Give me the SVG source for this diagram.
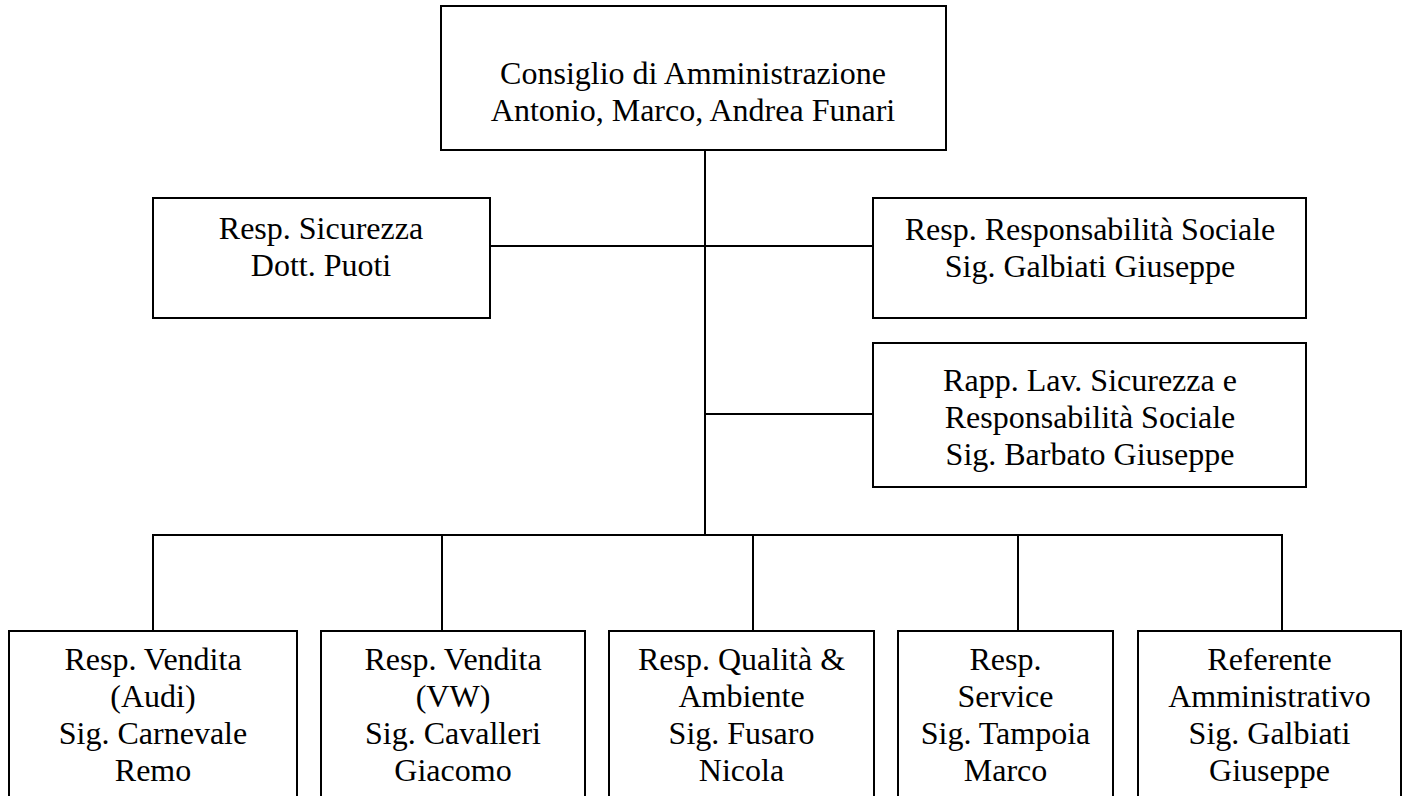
<svg xmlns="http://www.w3.org/2000/svg" width="1407" height="796" viewBox="0 0 1407 796">
<style>
.box{fill:#ffffff;stroke:#000000;stroke-width:2}
.ln{fill:none;stroke:#000000;stroke-width:2}
text{font-family:"Liberation Serif","Times New Roman",serif;font-size:32px;fill:#000000;text-anchor:middle}
</style>
<rect x="0" y="0" width="1407" height="796" fill="#ffffff"/>
<g id="connectors">
<line class="ln" x1="705" y1="150" x2="705" y2="535"/>
<line class="ln" x1="490" y1="246" x2="873" y2="246"/>
<line class="ln" x1="705" y1="414" x2="873" y2="414"/>
<line class="ln" x1="152" y1="535" x2="1283" y2="535"/>
<line class="ln" x1="153" y1="535" x2="153" y2="631"/>
<line class="ln" x1="442" y1="535" x2="442" y2="631"/>
<line class="ln" x1="753" y1="535" x2="753" y2="631"/>
<line class="ln" x1="1018" y1="535" x2="1018" y2="631"/>
<line class="ln" x1="1282" y1="535" x2="1282" y2="631"/>
</g>
<g id="n_cda">
<rect class="box" x="441" y="6" width="505" height="144"/>
<text x="693" y="84">Consiglio di Amministrazione</text>
<text x="693" y="121">Antonio, Marco, Andrea Funari</text>
</g>
<g id="n_sicurezza">
<rect class="box" x="153" y="198" width="337" height="120"/>
<text x="321" y="239">Resp. Sicurezza</text>
<text x="321" y="276">Dott. Puoti</text>
</g>
<g id="n_respsociale">
<rect class="box" x="873" y="198" width="433" height="120"/>
<text x="1090" y="240">Resp. Responsabilità Sociale</text>
<text x="1090" y="277">Sig. Galbiati Giuseppe</text>
</g>
<g id="n_rapp">
<rect class="box" x="873" y="343" width="433" height="144"/>
<text x="1090" y="391">Rapp. Lav. Sicurezza e</text>
<text x="1090" y="428">Responsabilità Sociale</text>
<text x="1090" y="465">Sig. Barbato Giuseppe</text>
</g>
<g id="n_audi">
<rect class="box" x="9" y="631" width="288" height="180"/>
<text x="153" y="670">Resp. Vendita</text>
<text x="153" y="707">(Audi)</text>
<text x="153" y="744">Sig. Carnevale</text>
<text x="153" y="781">Remo</text>
</g>
<g id="n_vw">
<rect class="box" x="321" y="631" width="264" height="180"/>
<text x="453" y="670">Resp. Vendita</text>
<text x="453" y="707">(VW)</text>
<text x="453" y="744">Sig. Cavalleri</text>
<text x="453" y="781">Giacomo</text>
</g>
<g id="n_qualita">
<rect class="box" x="609" y="631" width="265" height="180"/>
<text x="741.5" y="670">Resp. Qualità &amp;</text>
<text x="741.5" y="707">Ambiente</text>
<text x="741.5" y="744">Sig. Fusaro</text>
<text x="741.5" y="781">Nicola</text>
</g>
<g id="n_service">
<rect class="box" x="898" y="631" width="215" height="180"/>
<text x="1005.5" y="670">Resp.</text>
<text x="1005.5" y="707">Service</text>
<text x="1005.5" y="744">Sig. Tampoia</text>
<text x="1005.5" y="781">Marco</text>
</g>
<g id="n_amministrativo">
<rect class="box" x="1138" y="631" width="263" height="180"/>
<text x="1269.5" y="670">Referente</text>
<text x="1269.5" y="707">Amministrativo</text>
<text x="1269.5" y="744">Sig. Galbiati</text>
<text x="1269.5" y="781">Giuseppe</text>
</g>
</svg>
